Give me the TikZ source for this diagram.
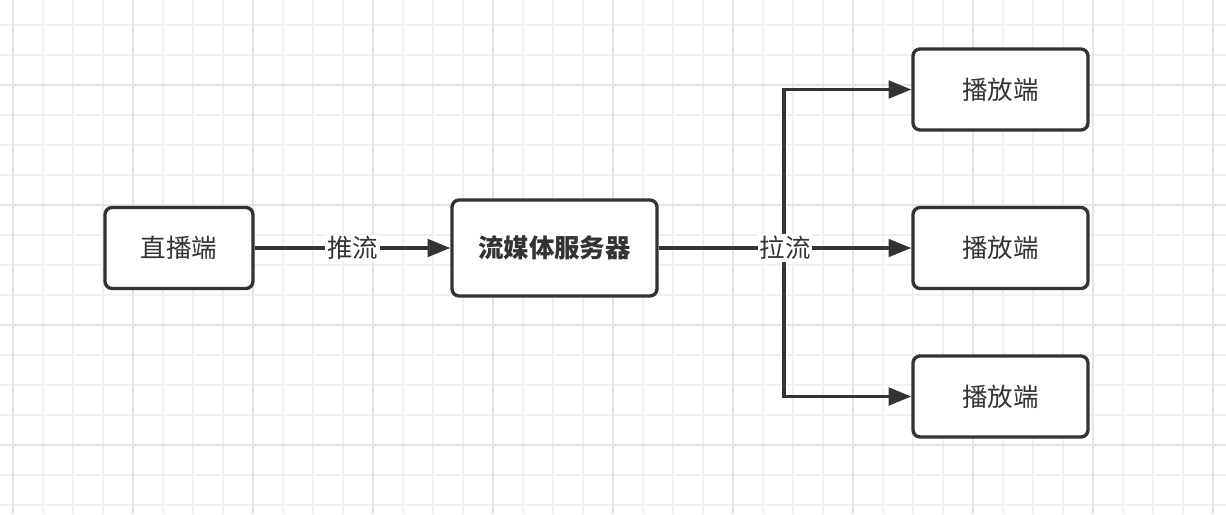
\documentclass[tikz,border=0pt]{standalone}
\usepackage{fontspec}
\newfontfamily\cjk{Noto Sans CJK SC}
\usetikzlibrary{arrows.meta, positioning}
\definecolor{ink}{HTML}{333333}
\definecolor{gridminor}{HTML}{F0F0F0}
\definecolor{gridmajor}{HTML}{E4E4E4}
\tikzset{
    % Client boxes - rounded dark outline
    endpoint/.style={rectangle, rounded corners=4pt, draw=ink, line width=1.9pt,
        fill=white, minimum width=2.96cm, minimum height=1.62cm,
        font=\cjk\fontsize{14.5}{16}\selectfont, text=ink},
    % Player boxes - a little wider
    player/.style={endpoint, minimum width=3.5cm},
    % Media server box - larger, bold text
    server/.style={endpoint, minimum width=4.1cm, minimum height=1.92cm,
        font=\cjk\bfseries\fontsize{14.5}{16}\selectfont},
    % Stream connectors
    flow/.style={draw=ink, line width=1.9pt, -{Triangle[length=13pt, width=10pt]}},
    % Connector labels on white
    flowlabel/.style={fill=white, inner sep=1pt, text=ink,
        font=\cjk\fontsize{14.5}{16}\selectfont},
    % Background grid
    minor line/.style={gridminor, line width=0.6pt},
    major line/.style={gridmajor, line width=1.1pt}
}

\begin{document}
\begin{tikzpicture}[x=0.02cm, y=-0.02cm]
    % --- Canvas & grid ---
    \useasboundingbox (0,0) rectangle (1226,514);
    \fill[white] (0,0) rectangle (1226,514);
    \foreach \gx in {13,43,...,1226} \draw[minor line] (\gx,0) -- (\gx,514);
    \foreach \gy in {25,55,...,514} \draw[minor line] (0,\gy) -- (1226,\gy);
    \foreach \gx in {13,133,...,1226} \draw[major line] (\gx,0) -- (\gx,514);
    \foreach \gy in {85,205,...,514} \draw[major line] (0,\gy) -- (1226,\gy);

    % --- Set up coordinates ---
    \coordinate (split) at (784,248);

    % --- Boxes ---
    \node[endpoint] (anchor) at (179,248) {直播端};
    \node[server] (media) at (554.5,248) {流媒体服务器};
    \node[player] (player1) at (1000.5,89.5) {播放端};
    \node[player] (player2) at (1000.5,248) {播放端};
    \node[player] (player3) at (1000.5,396.5) {播放端};

    % --- Connectors ---
    \draw[flow] (split) |- (player1.west);
    \draw[flow] (split) |- (player3.west);
    \draw[flow] (anchor.east) -- node[flowlabel] (push) {推流} (media.west);
    \draw[flow] (media.east) -- node[flowlabel] (pull) {拉流} (player2.west);
\end{tikzpicture}
\end{document}
